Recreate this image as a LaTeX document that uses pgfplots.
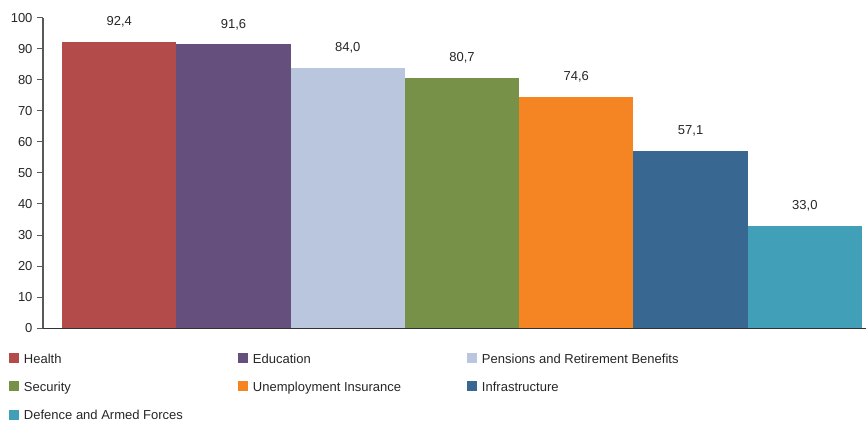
\documentclass[border=0pt]{standalone}
\usepackage{fontspec}
\setmainfont{Liberation Sans}
\usepackage{pgfplots}
\pgfplotsset{compat=1.18}
\definecolor{cHealth}{RGB}{179,75,74}
\definecolor{cEdu}{RGB}{100,79,125}
\definecolor{cPens}{RGB}{185,198,222}
\definecolor{cSec}{RGB}{119,145,73}
\definecolor{cUnemp}{RGB}{245,133,34}
\definecolor{cInfra}{RGB}{56,103,145}
\definecolor{cDef}{RGB}{65,160,184}
\newcommand{\legtxt}[1]{\makebox[214bp][l]{\rule[-2.5bp]{0pt}{12.5bp}#1}}
\newcommand{\legtxtlast}[1]{\makebox[214bp][l]{\rule{0pt}{10bp}#1}}
\begin{document}
\fontsize{13bp}{15.6bp}\selectfont
\begin{tikzpicture}
\path[use as bounding box] (-43bp,-95bp) rectangle (824bp,328bp);
\begin{axis}[
  at={(0,0)}, anchor=south west,
  scale only axis, width=823bp, height=310bp,
  xmin=-0.667, xmax=6.535, ymin=0, ymax=100,
  ybar, bar width=1, bar shift=0pt,
  axis x line*=bottom, axis y line*=left,
  xtick=\empty,
  ytick={0,10,...,100},
  tick align=outside, major tick length=6bp,
  y axis line style={draw=black!65, line width=1.3bp},
  x axis line style={draw=black!80, line width=1bp},
  ytick style={draw=black!65, line width=1bp},
  yticklabel style={text=black!85},
  /pgf/number format/assume math mode=true,
  nodes near coords,
  every node near coord/.append style={anchor=base, inner sep=0pt, yshift=16bp, text=black!85},
  nodes near coords={\pgfmathprintnumber[fixed, fixed zerofill, precision=1, use comma, assume math mode=true]{\pgfplotspointmeta}},
  legend columns=3,
  legend style={at={(0,0)}, anchor=north west, xshift=-34bp, yshift=-25bp,
    draw=none, fill=none, inner sep=0pt, outer sep=0pt, row sep=16.5bp,
    cells={anchor=base west}, nodes={inner sep=0pt, outer sep=0pt, text=black!85},
    /tikz/every odd column/.append style={column sep=5bp}},
  legend image code/.code={\fill[#1] (0bp,0bp) rectangle (10bp,10bp);},
]
\addplot[fill=cHealth, draw=none, bar shift=0pt] coordinates {(0,92.4)};
\addlegendentry{\legtxt{Health}}
\addplot[fill=cEdu, draw=none, bar shift=0pt] coordinates {(1,91.6)};
\addlegendentry{\legtxt{Education}}
\addplot[fill=cPens, draw=none, bar shift=0pt] coordinates {(2,84.0)};
\addlegendentry{\legtxt{Pensions and Retirement Benefits}}
\addplot[fill=cSec, draw=none, bar shift=0pt] coordinates {(3,80.7)};
\addlegendentry{\legtxt{Security}}
\addplot[fill=cUnemp, draw=none, bar shift=0pt] coordinates {(4,74.6)};
\addlegendentry{\legtxt{Unemployment Insurance}}
\addplot[fill=cInfra, draw=none, bar shift=0pt] coordinates {(5,57.1)};
\addlegendentry{\legtxt{Infrastructure}}
\addplot[fill=cDef, draw=none, bar shift=0pt] coordinates {(6,33.0)};
\addlegendentry{\legtxtlast{Defence and Armed Forces}}
\end{axis}
\end{tikzpicture}
\end{document}
